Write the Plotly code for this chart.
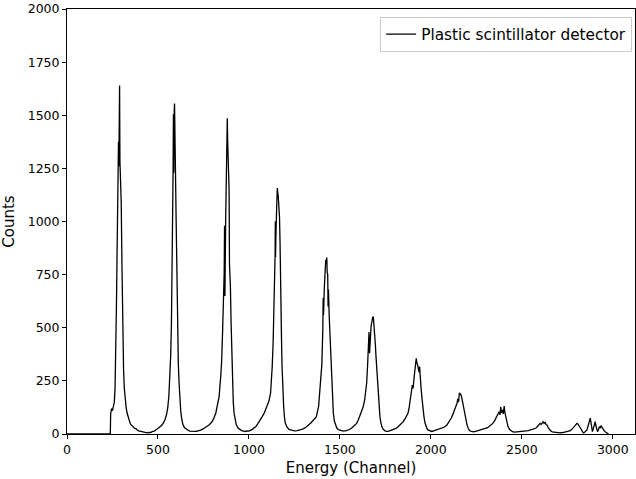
import plotly.graph_objects as go

# Channel numbers (x) and counts (y)
channels = [
    0, 230, 238, 240, 245, 250, 255, 260, 264, 268, 272, 276, 280, 283, 285, 287, 289, 291, 294, 298,
    302, 305, 308, 311, 315, 320, 325, 330, 335, 340, 345, 350, 360, 370, 380, 390, 400, 410, 420, 430,
    440, 450, 460, 470, 480, 490, 500, 510, 520, 530, 540, 548, 554, 560, 565, 570, 574, 578, 581, 583,
    585, 587, 589, 591, 593, 596, 600, 604, 608, 612, 616, 620, 625, 630, 636, 645, 655, 665, 675, 690,
    700, 710, 720, 735, 750, 765, 780, 795, 805, 818, 828, 836, 845, 850, 855, 860, 864, 866, 868, 872,
    876, 879, 881, 883, 886, 889, 891, 893, 895, 898, 902, 906, 910, 914, 918, 924, 930, 940, 950, 960,
    970, 980, 990, 1000, 1010, 1020, 1030, 1037, 1050, 1060, 1073, 1085, 1100, 1110, 1119, 1124, 1128, 1133, 1137, 1141,
    1144, 1145, 1146, 1149, 1153, 1156, 1158, 1161, 1165, 1168, 1171, 1173, 1174, 1176, 1179, 1182, 1186, 1191, 1195, 1200,
    1210, 1220, 1235, 1250, 1265, 1280, 1295, 1310, 1325, 1340, 1355, 1370, 1383, 1392, 1401, 1406, 1408, 1410, 1414, 1418,
    1422, 1425, 1428, 1430, 1433, 1435, 1437, 1441, 1446, 1450, 1455, 1460, 1464, 1470, 1477, 1483, 1492, 1505, 1520, 1535,
    1550, 1565, 1580, 1592, 1601, 1612, 1620, 1628, 1636, 1642, 1647, 1652, 1656, 1660, 1663, 1665, 1668, 1671, 1674, 1678,
    1681, 1684, 1687, 1690, 1692, 1695, 1698, 1700, 1701, 1704, 1707, 1710, 1714, 1717, 1720, 1725, 1730, 1738, 1750, 1765,
    1780, 1795, 1808, 1820, 1835, 1848, 1860, 1868, 1874, 1880, 1887, 1893, 1898, 1902, 1905, 1908, 1912, 1916, 1920, 1922,
    1925, 1929, 1933, 1936, 1938, 1941, 1944, 1947, 1951, 1955, 1958, 1962, 1967, 1972, 1978, 1984, 1995, 2005, 2020, 2035,
    2045, 2060, 2075, 2088, 2102, 2112, 2120, 2129, 2137, 2144, 2148, 2152, 2157, 2161, 2166, 2170, 2175, 2180, 2184, 2190,
    2195, 2199, 2205, 2212, 2222, 2235, 2250, 2265, 2280, 2295, 2312, 2322, 2330, 2340, 2350, 2357, 2365, 2370, 2375, 2380,
    2384, 2388, 2393, 2398, 2403, 2407, 2412, 2418, 2424, 2432, 2440, 2448, 2460, 2475, 2490, 2505, 2520, 2535, 2548, 2562,
    2576, 2585, 2594, 2600, 2606, 2612, 2617, 2622, 2628, 2633, 2639, 2645, 2650, 2657, 2667, 2680, 2695, 2710, 2725, 2740,
    2755, 2767, 2775, 2785, 2793, 2798, 2803, 2808, 2814, 2821, 2828, 2834, 2839, 2845, 2852, 2858, 2865, 2870, 2876, 2880,
    2884, 2888, 2893, 2898, 2903, 2907, 2912, 2916, 2921, 2927, 2932, 2936, 2940, 2945, 2950, 2958, 2965, 2972, 2976,
]
counts = [
    0, 0, 0, 95, 120, 110, 135, 150, 210, 380, 620, 900, 1100, 1375, 1260, 1370, 1640, 1280, 1200, 1090,
    800, 560, 400, 300, 215, 160, 125, 100, 80, 62, 56, 45, 36, 28, 24, 16, 14, 11, 8, 6,
    5, 8, 7, 12, 14, 20, 26, 30, 40, 52, 70, 95, 125, 180, 250, 370, 520, 760, 1050, 1230,
    1505, 1230, 1510, 1555, 1320, 1250, 1000, 720, 480, 330, 240, 160, 110, 75, 48, 30, 22, 18, 14, 12,
    14, 12, 15, 18, 25, 32, 42, 55, 70, 99, 135, 176, 270, 340, 475, 600, 760, 980, 650, 1000,
    1250, 1450, 1486, 1380, 1300, 1256, 1150, 800, 770, 700, 520, 380, 230, 150, 100, 66, 45, 28, 20, 16,
    14, 12, 15, 14, 18, 22, 30, 34, 50, 62, 82, 100, 128, 155, 193, 250, 317, 430, 552, 700,
    850, 1000, 833, 960, 1080, 1157, 1140, 1120, 1060, 1022, 900, 690, 570, 620, 450, 317, 210, 128, 80, 50,
    32, 22, 18, 15, 16, 19, 23, 30, 40, 52, 66, 80, 130, 250, 330, 490, 640, 560, 680, 770,
    820, 800, 830, 760, 750, 600, 680, 560, 442, 330, 240, 160, 97, 60, 40, 28, 20, 16, 14, 16,
    20, 28, 38, 50, 66, 88, 105, 128, 160, 200, 240, 320, 395, 480, 380, 442, 480, 504, 520, 540,
    552, 548, 520, 480, 458, 420, 370, 340, 360, 290, 250, 207, 150, 110, 82, 55, 36, 22, 14, 12,
    16, 20, 26, 34, 45, 58, 75, 88, 97, 120, 160, 193, 230, 215, 254, 270, 300, 330, 356, 340,
    320, 317, 300, 290, 317, 260, 230, 207, 170, 130, 100, 82, 55, 38, 26, 19, 14, 12, 16, 20,
    25, 28, 33, 42, 58, 75, 90, 113, 125, 146, 165, 150, 194, 190, 183, 170, 146, 128, 105, 75,
    55, 42, 28, 16, 12, 10, 13, 16, 20, 25, 30, 36, 42, 50, 62, 75, 88, 95, 105, 90,
    128, 100, 113, 95, 131, 100, 75, 55, 35, 22, 15, 11, 9, 10, 12, 11, 14, 16, 19, 22,
    27, 34, 42, 50, 45, 52, 58, 50, 55, 45, 42, 30, 22, 16, 10, 8, 6, 5, 7, 9,
    12, 16, 22, 33, 42, 48, 50, 47, 40, 33, 20, 10, 5, 8, 14, 19, 40, 62, 75, 55,
    30, 11, 25, 45, 58, 40, 22, 11, 20, 35, 28, 40, 33, 22, 18, 11, 6, 3, 0,
]

series_name = "Plastic scintillator detector"
x_ticks = [0, 500, 1000, 1500, 2000, 2500, 3000]
y_ticks = [0, 250, 500, 750, 1000, 1250, 1500, 1750, 2000]

fig = go.Figure()
fig.add_trace(go.Scatter(
    x=channels, y=counts, mode="lines", name=series_name,
    line=dict(color="black", width=1.3),
))

axis_common = dict(
    showline=True, linecolor="black", linewidth=1, mirror=True,
    ticks="outside", ticklen=4, tickwidth=1, tickcolor="black",
    showgrid=False, zeroline=False,
    tickfont=dict(family="DejaVu Sans", size=12.5, color="black"),
)

fig.update_layout(
    width=636, height=479,
    margin=dict(l=67, r=1, t=9, b=45),
    paper_bgcolor="white", plot_bgcolor="white",
    showlegend=True,
    legend=dict(
        x=0.995, y=0.982, xanchor="right", yanchor="top",
        bgcolor="white", bordercolor="#cccccc", borderwidth=1,
        itemwidth=30,
        font=dict(family="DejaVu Sans", size=15.3, color="black"),
    ),
    xaxis=dict(
        range=[0, 3122], tickvals=x_ticks,
        title=dict(text="Energy (Channel)", standoff=6,
                   font=dict(family="DejaVu Sans", size=15, color="black")),
        **axis_common,
    ),
    yaxis=dict(
        range=[0, 2000], tickvals=y_ticks,
        title=dict(text="Counts", standoff=10,
                   font=dict(family="DejaVu Sans", size=15, color="black")),
        **axis_common,
    ),
)

fig.write_html("out.html")
